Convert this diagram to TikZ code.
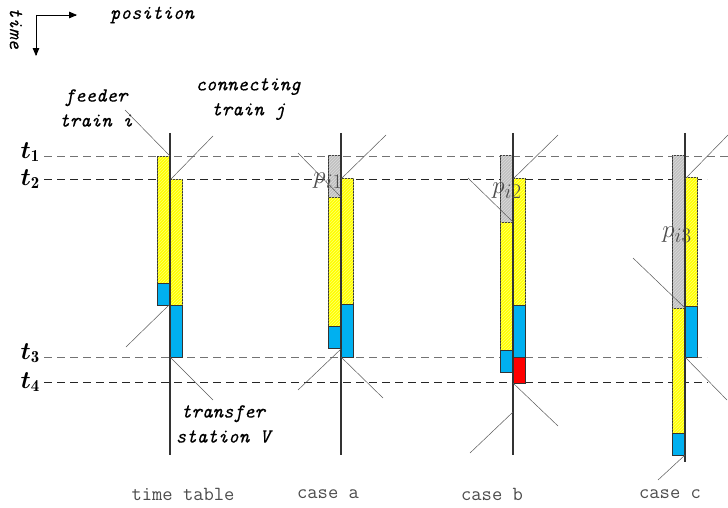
\documentclass[tikz,border=0pt]{standalone}
\usepackage{amsmath}
\usepackage{amsfonts}
\usepackage{bm}
\usepackage{fontspec}
\usepackage{tikz}
\usepackage{xcolor}
\usetikzlibrary{positioning,arrows,patterns}

\newfontfamily\lblmono{Latin Modern Mono}[FakeBold=0.2]

\definecolor{runyellow}{RGB}{255,255,0}
\definecolor{dwellblue}{RGB}{0,176,240}
\definecolor{delayred}{RGB}{255,0,0}
\definecolor{lategrey}{RGB}{192,192,192}

\begin{document}
\begin{tikzpicture}[x=1pt,y=1pt]
\tikzstyle{every node}+=[inner sep=0pt]
\tikzstyle{lbl}=[font=\fontsize{20}{25}\selectfont\lblmono\itshape, align=center]
\tikzstyle{caselbl}=[font=\fontsize{20}{22}\selectfont\ttfamily, text=black!70]
\tikzstyle{tlbl}=[font=\fontsize{24}{26}\selectfont]
\tikzstyle{plbl}=[font=\fontsize{28}{30}\selectfont, text=black!70]
\tikzstyle{timeline}=[dash pattern=on 8pt off 5pt, line width=0.9pt]
\tikzstyle{leader}=[black!65, line width=0.5pt]
\tikzstyle{station}=[black!80, line width=1.3pt]
\tikzstyle{bar}=[draw=black!80, line width=0.6pt]
\tikzstyle{yhatch}=[postaction={pattern=north east lines, pattern color=runyellow!55!white}]
\tikzstyle{ghatch}=[postaction={pattern=north east lines, pattern color=lategrey!55!white}]
\useasboundingbox (0,0) rectangle (728,-508);

% axes
\coordinate (o) at (36,-15);
\coordinate (xend) at (77,-15);
\coordinate (yend) at (36,-56);
\draw [-triangle 45, line width=0.8pt] (o) -- (xend);
\draw [-triangle 45, line width=0.8pt] (o) -- (yend);
\node [lbl] (position) at (152,-15) {position};
\node [lbl, rotate=-90] (time) at (16,-28) {time};

% time lines
\foreach \y/\e/\c/\n/\b in {156/728/black!55/1/158, 179/707/black!85/2/185, 357/707/black!55/3/359, 382/708/black!85/4/388} {
  \draw [timeline, \c] (44,-\y) -- (\e,-\y);
  \node [tlbl, anchor=base east] (t\n) at (40,-\b) {$\boldsymbol{t}_{\mathbf{\n}}$};
}

% time table
\filldraw [bar, fill=runyellow, yhatch] (157.5,-156) rectangle (170,-283);
\filldraw [bar, fill=dwellblue] (157.5,-283) rectangle (170,-305);
\filldraw [bar, fill=runyellow, yhatch] (170,-179) rectangle (182.5,-305);
\filldraw [bar, fill=dwellblue] (170,-305) rectangle (182.5,-357);
\draw [station] (170,-133) -- (170,-455);

% case a
\filldraw [bar, fill=lategrey, ghatch] (328.5,-155) rectangle (341,-197);
\filldraw [bar, fill=runyellow, yhatch] (328.5,-197) rectangle (341,-326);
\filldraw [bar, fill=dwellblue] (328.5,-326) rectangle (341,-348);
\filldraw [bar, fill=runyellow, yhatch] (341,-178.5) rectangle (353.5,-304.5);
\filldraw [bar, fill=dwellblue] (341,-304.5) rectangle (353.5,-357);
\draw [station] (341,-133) -- (341,-455);

% case b
\filldraw [bar, fill=lategrey, ghatch] (500.5,-155) rectangle (513,-222.5);
\filldraw [bar, fill=runyellow, yhatch] (500.5,-222.5) rectangle (513,-350.5);
\filldraw [bar, fill=dwellblue] (500.5,-350.5) rectangle (513,-372.5);
\filldraw [bar, fill=runyellow, yhatch] (513,-178) rectangle (525.5,-305.5);
\filldraw [bar, fill=dwellblue] (513,-305.5) rectangle (525.5,-357);
\filldraw [bar, fill=delayred] (513,-357) rectangle (525.5,-383);
\draw [station] (513,-133) -- (513,-455);

% case c
\filldraw [bar, fill=lategrey, ghatch] (672.5,-155) rectangle (685,-308);
\filldraw [bar, fill=runyellow, yhatch] (672.5,-308) rectangle (685,-433);
\filldraw [bar, fill=dwellblue] (672.5,-433) rectangle (685,-455);
\filldraw [bar, fill=runyellow, yhatch] (685,-177.5) rectangle (697.5,-306);
\filldraw [bar, fill=dwellblue] (685,-306) rectangle (697.5,-357);
\draw [station] (685,-133) -- (685,-462);

% labels
\node [lbl] (feeder) at (96,-108) {feeder\\train i};
\node [lbl] (connecting) at (248,-99) {connecting\\train j};
\node [lbl] (transfer) at (223,-424) {transfer\\station V};
\node [plbl] (pa) at (328,-181) {$p_{i1}$};
\node [plbl] (pb) at (507,-191) {$p_{i2}$};
\node [plbl] (pc) at (677,-235) {$p_{i3}$};
\node [caselbl] (tt) at (183,-494) {time table};
\node [caselbl] (ca) at (328,-494) {case a};
\node [caselbl] (cb) at (492,-494) {case b};
\node [caselbl] (cc) at (670,-494) {case c};

% leader ends
\coordinate (f0) at (125,-110);  \coordinate (f1) at (170,-156);
\coordinate (c0) at (213,-136);  \coordinate (c1) at (171,-179);
\coordinate (w0) at (126,-347);  \coordinate (w1) at (169,-305);
\coordinate (v0) at (170,-357);  \coordinate (v1) at (213,-400);
\coordinate (a0) at (298,-153);  \coordinate (a1) at (341,-197);
\coordinate (a2) at (386,-135);  \coordinate (a3) at (341,-179);
\coordinate (a4) at (298,-390);  \coordinate (a5) at (341,-349);
\coordinate (a6) at (341,-357);  \coordinate (a7) at (383,-398);
\coordinate (b0) at (468,-178);  \coordinate (b1) at (513,-222);
\coordinate (b2) at (558,-135);  \coordinate (b3) at (513,-179);
\coordinate (b4) at (513,-383);  \coordinate (b5) at (558,-426);
\coordinate (b6) at (470,-453);  \coordinate (b7) at (513,-412);
\coordinate (d0) at (728,-135);  \coordinate (d1) at (685,-179);
\coordinate (d2) at (633,-258);  \coordinate (d3) at (685,-308);
\coordinate (d4) at (685,-357);  \coordinate (d5) at (727,-400);
\coordinate (d6) at (685,-455);  \coordinate (d7) at (658,-480);

\foreach \p/\q in {f0/f1, c0/c1, w0/w1, v0/v1, a0/a1, a2/a3, a4/a5, a6/a7, b0/b1, b2/b3, b4/b5, b6/b7, d0/d1, d2/d3, d4/d5, d6/d7}
  \draw [leader] (\p) -- (\q);
\end{tikzpicture}
\end{document}
